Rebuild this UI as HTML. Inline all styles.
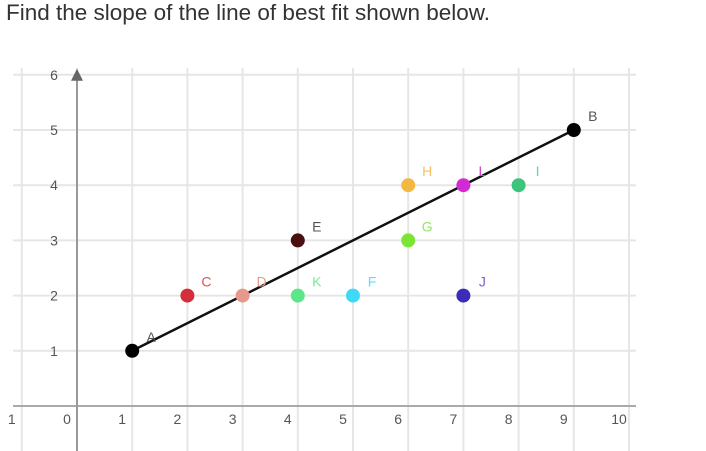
<!DOCTYPE html>
<html><head><meta charset="utf-8"><style>
body{margin:0;background:#fff;width:706px;height:451px;overflow:hidden;font-family:"Liberation Sans",sans-serif}
#title{position:absolute;left:6px;top:0px;font-size:22.5px;color:#333;white-space:nowrap}
svg{position:absolute;left:0;top:0}
</style></head><body>
<div id="title">Find the slope of the line of best fit shown below.</div>
<svg id="chart" width="706" height="451"></svg>
<script>
const xTicks=[-1,0,1,2,3,4,5,6,7,8,9,10];
const xTickLabels=["1","0","1","2","3","4","5","6","7","8","9","10"];
const yTicks=[1,2,3,4,5,6];
const yTickLabels=["1","2","3","4","5","6"];
const pointNames=["A","B","C","D","E","F","G","H","I","J","K","L"];
const pointX=[1,9,2,3,4,5,6,6,8,7,4,7];
const pointY=[1,5,2,2,3,2,3,4,4,2,2,4];
const pointColors=["#000","#000","#d62d3a","#e8998d","#4a1010","#3dd9f5","#7be536","#f2b842","#3cc47a","#3a2db8","#5ce68a","#d42ad4"];
const labelColors=["#555","#555","#e0505a","#e8998d","#555","#5fdcf5","#8fe860","#f5c060","#60d898","#8060d0","#80e8a0","#d040d0"];
const lineStart=[1,1];
const lineEnd=[9,5];
const NS="http://www.w3.org/2000/svg";
const svg=document.getElementById('chart');
const X=v=>77+v*55.2, Y=v=>406-v*55.2;
function mk(t,a){const e=document.createElementNS(NS,t);for(const k in a)e.setAttribute(k,a[k]);svg.appendChild(e);return e;}
xTicks.forEach((t,i)=>{
 const l=mk('line',{x1:X(t),x2:X(t),y1:68,y2:451,stroke:'#e6e6e6','stroke-width':2});
 
 
 const tx=mk('text',{x:X(t)-10,y:424,'font-size':14,fill:'#555','text-anchor':'middle'});
 tx.textContent=xTickLabels[i];
 
 
});
yTicks.forEach((t,i)=>{
 const l=mk('line',{x1:13,x2:636,y1:Y(t),y2:Y(t),stroke:'#e6e6e6','stroke-width':2});
 
 
 const tx=mk('text',{x:54,y:Y(t)+5,'font-size':14,fill:'#555','text-anchor':'middle'});
 tx.textContent=yTickLabels[i];
 
 
});
const xa=mk('line',{x1:13,x2:636,y1:Y(0),y2:Y(0),stroke:'#aaa','stroke-width':2});


const ya=mk('line',{x1:X(0),x2:X(0),y1:78,y2:451,stroke:'#999','stroke-width':2});


const ar=mk('polygon',{points:`${X(0)-6},${Y(6)+6} ${X(0)+6},${Y(6)+6} ${X(0)},${Y(6)-6}`,fill:'#666'});


const bl=mk('line',{x1:X(lineStart[0]),y1:Y(lineStart[1]),x2:X(lineEnd[0]),y2:Y(lineEnd[1]),stroke:'#111','stroke-width':2.5});


pointNames.forEach((n,i)=>{
 const c=mk('circle',{cx:X(pointX[i]),cy:Y(pointY[i]),r:7,fill:pointColors[i]});
 
 
 const t=mk('text',{x:X(pointX[i])+19,y:Y(pointY[i])-9,'font-size':14,fill:labelColors[i],'text-anchor':'middle'});
 t.textContent=n;
 
 
});
</script>
</body></html>
